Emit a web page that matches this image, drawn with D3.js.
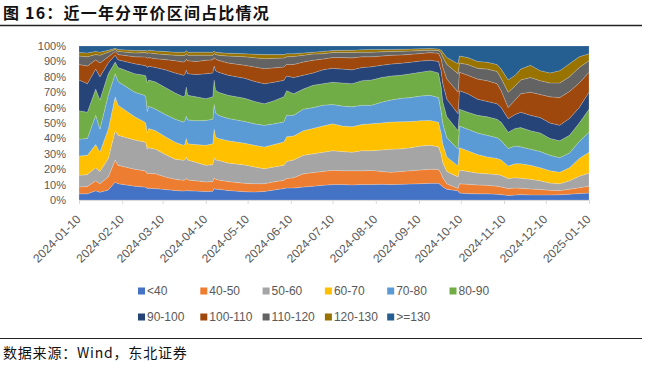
<!DOCTYPE html>
<html><head><meta charset="utf-8">
<script src="https://cdn.jsdelivr.net/npm/d3@7"></script>
<style>
html,body{margin:0;padding:0;background:#fff;}
svg{display:block;}
</style></head><body>
<svg id="c" width="645" height="367"></svg>
<script>
const dates = ["2024-01-10","2024-01-16","2024-01-22","2024-01-25","2024-01-31","2024-02-05","2024-02-07","2024-02-19","2024-02-26","2024-02-27","2024-02-28","2024-02-29",
"2024-03-05","2024-03-12","2024-03-19","2024-03-25","2024-03-26","2024-03-27","2024-03-28","2024-04-03","2024-04-10","2024-04-15","2024-04-16","2024-04-17","2024-04-19","2024-04-26",
"2024-05-08","2024-05-15","2024-05-22","2024-05-29","2024-06-05","2024-06-07","2024-06-12","2024-06-19","2024-06-26","2024-07-03",
"2024-07-10","2024-07-17","2024-07-24","2024-07-31","2024-08-07","2024-08-14","2024-08-21","2024-08-28","2024-09-04","2024-09-11",
"2024-09-18","2024-09-24","2024-09-26","2024-09-27","2024-09-30","2024-10-08","2024-10-09","2024-10-15","2024-10-22","2024-10-29",
"2024-11-05","2024-11-08","2024-11-13","2024-11-18","2024-11-22","2024-11-29","2024-12-06","2024-12-13","2024-12-20","2024-12-27",
"2025-01-03","2025-01-10"];

const below40 = [4.0,4.0,6.0,5.0,6.5,11.7,10.6,9.0,8.4,8.2,7.5,7.6,
7.4,6.8,6.2,5.8,5.9,6.3,6.0,5.8,5.6,5.7,7.5,7.0,7.0,6.2,
5.4,5.2,5.6,6.5,7.4,7.8,7.8,8.4,9.0,9.5,
10.0,10.0,9.8,10.0,10.0,10.2,10.0,10.2,10.4,10.6,
10.8,10.8,9.5,8.5,7.0,6.0,4.5,4.2,4.0,4.0,
3.8,3.5,3.0,3.2,3.5,3.3,3.3,3.3,3.4,3.8,
4.2,4.5];
const p40_50 = [4.5,4.8,6.5,5.5,8.5,14.3,11.9,11.0,10.6,10.5,9.5,9.8,
9.6,8.2,7.3,7.0,7.1,7.8,7.0,6.7,6.1,6.3,7.0,6.5,6.0,5.8,
5.4,5.4,5.0,5.3,5.4,6.2,6.7,8.6,8.8,9.0,
9.3,9.0,9.2,9.0,9.2,8.3,8.0,8.3,8.6,8.9,
9.2,9.0,7.5,6.0,3.5,1.5,6.0,6.0,5.8,5.5,
5.2,5.0,4.4,4.6,4.1,3.9,3.5,3.0,2.8,3.2,
3.8,4.5];
const p50_60 = [7.5,7.7,8.5,8.0,12.0,19.0,19.5,19.0,18.7,18.5,16.0,16.5,
16.0,14.5,13.0,13.0,13.2,13.8,13.0,12.0,10.8,11.0,13.0,12.5,12.8,12.0,
12.0,10.9,9.7,9.7,9.7,11.0,11.5,12.0,12.2,12.5,
12.7,12.5,12.0,13.0,12.8,14.0,15.0,14.7,15.0,15.5,
15.5,14.7,12.5,10.0,8.0,7.5,9.0,8.3,7.7,7.5,
7.5,7.5,6.5,6.7,6.6,6.3,5.7,4.7,4.4,5.5,
7.5,8.5];
const p60_70 = [12.5,12.5,15.0,12.5,19.0,22.0,19.5,15.0,12.9,12.6,10.5,12.5,
12.0,11.5,11.0,9.7,10.0,12.0,10.5,11.5,13.0,13.5,18.5,15.0,14.2,14.5,
14.0,14.0,14.1,14.5,15.2,16.0,15.5,16.0,16.5,17.0,
17.5,16.5,16.5,17.0,17.5,17.5,17.6,17.6,17.0,16.5,
16.2,16.0,13.5,12.0,9.5,7.0,14.5,13.5,12.0,11.0,
10.5,10.0,8.1,9.0,9.4,9.0,8.5,8.0,7.4,8.5,
11.5,13.5];
const p70_80 = [11.0,11.0,19.0,15.0,22.0,15.0,15.5,16.0,17.4,17.0,14.0,14.5,
14.0,14.5,15.0,15.1,15.3,14.5,15.5,15.5,16.2,16.0,16.0,15.5,15.0,14.5,
14.2,14.0,14.1,13.5,12.9,14.0,13.5,14.0,13.5,13.5,
12.5,13.0,13.0,12.5,12.0,13.5,14.4,15.2,15.5,16.0,
16.3,16.0,14.0,13.5,12.5,11.0,14.0,14.0,14.0,14.0,
13.5,12.5,11.5,11.5,10.9,10.5,10.5,10.0,9.5,9.5,
11.0,13.0];
const p80_90 = [18.5,17.0,17.0,19.0,14.0,7.6,9.0,12.0,13.0,13.8,18.5,17.0,
17.6,17.5,17.0,16.4,16.5,19.0,16.0,15.5,14.1,14.5,16.0,15.0,15.0,15.0,
15.0,14.5,14.0,15.0,16.4,16.0,14.0,13.0,14.5,14.0,
14.5,15.0,15.0,16.0,16.5,16.0,15.5,15.0,15.5,15.5,
16.0,16.0,16.0,14.0,13.5,12.0,11.0,11.0,11.5,12.0,
12.0,12.0,10.5,11.5,12.5,12.0,12.0,11.0,11.0,11.5,
12.0,15.0];
const p90_100 = [20.0,18.5,13.0,15.0,7.0,4.4,5.0,6.5,6.4,6.6,10.0,9.0,
9.4,11.5,13.0,14.0,13.5,11.0,14.0,14.5,16.2,15.5,9.0,12.5,13.0,13.0,
13.0,13.0,13.0,12.0,10.7,9.5,10.5,9.0,8.0,9.0,
9.0,9.0,9.0,8.5,8.5,8.0,7.8,7.8,7.5,7.2,
6.7,7.5,10.5,12.0,11.5,11.0,12.0,12.0,10.5,10.0,
10.0,9.5,8.8,9.0,10.0,10.0,10.0,10.0,10.0,11.0,
10.0,11.0];
const p100_110 = [10.0,11.5,6.0,9.0,4.0,2.5,3.5,4.5,5.5,5.6,6.0,5.6,
5.8,6.7,8.0,8.6,8.5,7.0,8.5,8.5,8.7,8.5,5.5,7.5,7.7,8.0,
8.5,9.4,9.8,9.3,8.7,7.5,8.5,8.6,8.3,7.0,
7.0,7.5,7.8,7.0,6.5,6.0,5.7,5.4,5.1,5.0,
5.0,5.3,8.0,10.5,13.0,14.0,12.0,12.0,13.0,13.5,
13.0,11.0,7.2,9.5,12.0,15.0,15.0,17.0,18.0,17.5,
16.0,13.0];
const p110_120 = [5.5,6.0,3.5,5.0,3.0,1.3,2.0,2.5,2.8,2.9,3.2,3.1,
3.2,3.3,3.5,4.2,4.0,3.6,3.5,4.0,3.3,3.0,2.5,3.0,3.3,4.5,
5.5,6.0,6.5,6.2,5.8,5.0,5.2,4.4,4.0,3.5,
3.2,3.3,3.5,3.0,3.0,2.7,2.5,2.4,2.2,1.8,
1.5,1.7,4.0,6.5,9.5,12.0,6.0,7.0,7.0,7.5,
8.0,8.0,10.0,9.0,9.0,9.5,9.0,9.0,9.5,9.5,
10.0,7.5];
const p120_130 = [2.3,2.5,2.0,2.0,1.2,0.7,1.3,1.5,1.3,1.3,1.6,1.7,
1.8,1.9,2.0,2.2,2.0,2.0,2.0,2.0,2.0,2.0,1.8,1.5,1.7,1.8,
2.0,2.3,2.6,2.4,2.2,2.0,1.8,1.5,1.2,1.5,
1.3,1.4,1.4,1.6,1.8,1.6,1.3,1.3,1.2,1.2,
1.1,1.1,1.7,3.0,4.5,6.5,4.5,4.5,4.5,4.5,
4.5,6.0,8.0,7.0,7.0,8.0,6.5,6.5,8.0,8.5,
7.0,4.5];
const above130 = [4.2,4.5,3.5,4.0,2.8,1.5,2.2,3.0,3.0,3.0,3.2,2.7,
3.2,3.6,4.0,4.0,4.0,3.0,4.0,4.0,4.0,4.0,3.2,4.0,4.3,4.7,
5.0,5.3,5.6,5.6,5.6,5.0,5.0,4.5,4.0,3.5,
3.0,2.8,2.8,2.4,2.2,2.2,2.2,2.1,2.0,1.8,
1.7,1.9,2.8,4.0,7.5,11.5,6.5,7.5,10.0,10.5,
12.0,15.0,22.0,19.0,15.0,12.5,16.0,17.5,16.0,11.5,
7.0,5.0];

const categories = ["<40","40-50","50-60","60-70","70-80","80-90","90-100","100-110","110-120","120-130",">=130"];
const colors = ["#4472C4","#ED7D31","#A5A5A5","#FFC000","#5B9BD5","#70AD47","#264478","#9E480E","#636363","#997300","#255E91"];
const yTicks = [0,10,20,30,40,50,60,70,80,90,100];
const xTickLabels = ["2024-01-10","2024-02-10","2024-03-10","2024-04-10","2024-05-10","2024-06-10","2024-07-10","2024-08-10","2024-09-10","2024-10-10","2024-11-10","2024-12-10","2025-01-10"];
const titleText = "图 16：近一年分平价区间占比情况";
const sourceText = "数据来源：Wind，东北证券";

const seriesValues = [below40,p40_50,p50_60,p60_70,p70_80,p80_90,p90_100,p100_110,p110_120,p120_130,above130];
const parse = d3.timeParse("%Y-%m-%d");
const rows = dates.map((d,i) => {
  const r = {date: parse(d)};
  categories.forEach((c,k) => r[c] = seriesValues[k][i]);
  return r;
});

const svg = d3.select("#c");
const L = 79, R = 589, T = 46, B = 200;
const x = d3.scaleTime().domain([parse(xTickLabels[0]), parse(xTickLabels[xTickLabels.length-1])]).range([L, R]);
const y = d3.scaleLinear().domain([0,1]).range([B, T]);

const layers = d3.stack().keys(categories).offset(d3.stackOffsetExpand)(rows);
const area = d3.area().x(d => x(d.data.date)).y0(d => y(d[0])).y1(d => y(d[1]));

svg.append("g").selectAll("path").data(layers).join("path")
  .attr("d", area)
  .attr("fill", (d,i) => colors[i])
  .attr("stroke", "rgba(255,255,255,0.35)")
  .attr("stroke-width", 0.5);

// title
svg.append("text").attr("x", 3).attr("y", 19)
  .attr("font-family", "'Noto Sans CJK SC', sans-serif").attr("font-weight", 700)
  .attr("font-size", 16).attr("letter-spacing", 1.2).attr("fill", "#111")
  .text(titleText);
svg.append("line").attr("x1", 0).attr("x2", 642).attr("y1", 25.5).attr("y2", 25.5)
  .attr("stroke", "#222").attr("stroke-width", 1.5);

// y axis
const yAxis = svg.append("g").attr("transform", `translate(${L},0)`)
  .call(d3.axisLeft(y).tickValues(yTicks.map(v => v/100)).tickFormat(d => Math.round(d*100) + "%").tickSize(0).tickPadding(13));
yAxis.select(".domain").remove();
yAxis.selectAll("text").attr("font-family", "'Liberation Sans', Arial, sans-serif").attr("font-size", 11).attr("fill", "#595959");

// x axis
const xAxis = svg.append("g").attr("transform", `translate(0,${B})`)
  .call(d3.axisBottom(x).tickValues(xTickLabels.map(parse)).tickFormat(d3.timeFormat("%Y-%m-%d")).tickSize(4));
xAxis.select(".domain").attr("stroke", "#d9d9d9");
xAxis.selectAll(".tick line").attr("stroke", "#d9d9d9");
xAxis.selectAll("text")
  .attr("font-family", "'Liberation Sans', Arial, sans-serif").attr("font-size", 12).attr("fill", "#595959")
  .attr("text-anchor", "end").attr("y", 0).attr("dy", "0.35em")
  .attr("transform", "translate(-1,17) rotate(-45)");

// legend
const legend = svg.append("g");
categories.forEach((c,i) => {
  const row = i < 6 ? 0 : 1;
  const col = i < 6 ? i : i - 6;
  const gx = 138 + col * 62.3;
  const gy = row === 0 ? 291 : 317;
  legend.append("rect").attr("x", gx).attr("y", gy - 3.5).attr("width", 7).attr("height", 7).attr("fill", colors[i]);
  legend.append("text").attr("x", gx + 9).attr("y", gy).attr("dy", "0.35em")
    .attr("font-family", "'Liberation Sans', Arial, sans-serif").attr("font-size", 12).attr("fill", "#595959")
    .text(c);
});

// footer
svg.append("line").attr("x1", 0).attr("x2", 642).attr("y1", 338.5).attr("y2", 338.5)
  .attr("stroke", "#222").attr("stroke-width", 1);
svg.append("text").attr("x", 3).attr("y", 358)
  .attr("font-family", "'Noto Sans CJK SC', sans-serif").attr("font-size", 14).attr("letter-spacing", 0.8).attr("fill", "#111")
  .text(sourceText);
</script>
</body></html>
